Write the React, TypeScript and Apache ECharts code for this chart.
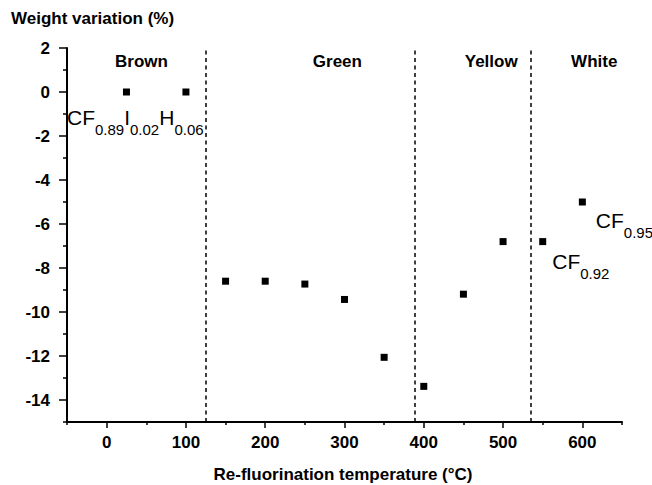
import React, { useEffect, useRef } from "react";
import * as echarts from "echarts";

// ---- data ----
const temps = [25, 100, 150, 200, 250, 300, 350, 400, 450, 500, 550, 600];
const weightVar = [0, 0, -8.6, -8.6, -8.73, -9.43, -12.06, -13.38, -9.19, -6.8, -6.8, -5.0];
const boundaries = [125, 389, 535];
const regionNames = ["Brown", "Green", "Yellow", "White"];
const regionX = [44, 291, 485, 615];
const regionY = 1.4;
const xTicks = [0, 100, 200, 300, 400, 500, 600];
const xMinorTicks = [-50, 50, 150, 250, 350, 450, 550, 650];
const yTicks = [-14, -12, -10, -8, -6, -4, -2, 0, 2];
const yMinorTicks = [-15, -13, -11, -9, -7, -5, -3, -1, 1];
const formulaText = [
  "{m|CF}{s|0.89}{m|I}{s|0.02}{m|H}{s|0.06}",
  "{m|CF}{s|0.95}",
  "{m|CF}{s|0.92}",
];
const formulaX = [-50, 617, 562];
const formulaY = [-1.36, -6.06, -7.91];

const FONT = 'Arial, "Liberation Sans", sans-serif';

export default function App() {
  const ref = useRef<HTMLDivElement>(null);
  useEffect(() => {
    document.body.style.margin = "0";
    const chart = echarts.init(ref.current!, null, { renderer: "svg" });
    const tickLabel = {
      color: "#000",
      fontFamily: FONT,
      fontWeight: "bold" as const,
      fontSize: 17,
    };
    chart.setOption({
      animation: false,
      backgroundColor: "#fff",
      grid: { left: 67, right: 30, top: 48, bottom: 63, containLabel: false },
      xAxis: [
        {
          type: "value",
          min: -50,
          max: 650,
          position: "bottom",
          axisLine: { show: true, onZero: false, lineStyle: { color: "#000", width: 2 } },
          axisTick: { show: true, customValues: xTicks, length: 6, lineStyle: { color: "#000", width: 1.5 } },
          axisLabel: { ...tickLabel, customValues: xTicks, margin: 12 },
          splitLine: { show: false },
        },
        {
          type: "value",
          min: -50,
          max: 650,
          position: "bottom",
          axisLine: { show: false, onZero: false },
          axisTick: { show: true, customValues: xMinorTicks, length: 3, lineStyle: { color: "#000", width: 1.5 } },
          axisLabel: { show: false },
          splitLine: { show: false },
        },
      ],
      yAxis: [
        {
          type: "value",
          min: -15,
          max: 2,
          position: "left",
          axisLine: { show: true, onZero: false, lineStyle: { color: "#000", width: 2 } },
          axisTick: { show: true, customValues: yTicks, length: 8, lineStyle: { color: "#000", width: 1.5 } },
          axisLabel: { ...tickLabel, customValues: yTicks, margin: 17 },
          splitLine: { show: false },
        },
        {
          type: "value",
          min: -15,
          max: 2,
          position: "left",
          axisLine: { show: false, onZero: false },
          axisTick: { show: true, customValues: yMinorTicks, length: 4, lineStyle: { color: "#000", width: 1.5 } },
          axisLabel: { show: false },
          splitLine: { show: false },
        },
      ],
      graphic: [
        {
          type: "text",
          left: 11,
          top: 10,
          style: {
            text: "Weight variation (%)",
            fill: "#000",
            font: `bold 17px ${FONT}`,
          },
        },
        {
          type: "text",
          x: 343,
          y: 474,
          style: {
            text: "Re-fluorination temperature (°C)",
            fill: "#000",
            font: `bold 17px ${FONT}`,
            align: "center",
            verticalAlign: "middle",
          },
        },
      ],
      series: [
        {
          type: "scatter",
          xAxisIndex: 0,
          yAxisIndex: 0,
          symbol: "rect",
          symbolSize: 7,
          itemStyle: { color: "#000", opacity: 1 },
          data: temps.map((t, i) => [t, weightVar[i]]),
          markLine: {
            silent: true,
            symbol: ["none", "none"],
            label: { show: false },
            lineStyle: { color: "#000", width: 1.5, type: [4, 3.5], opacity: 1 },
            data: boundaries.map((b) => ({ xAxis: b })),
          },
          z: 3,
        },
        {
          type: "scatter",
          xAxisIndex: 0,
          yAxisIndex: 0,
          symbolSize: 0,
          silent: true,
          itemStyle: { opacity: 1 },
          label: {
            show: true,
            position: "inside",
            color: "#000",
            fontFamily: FONT,
            fontWeight: "bold",
            fontSize: 17,
            formatter: (p: any) => regionNames[p.dataIndex],
          },
          data: regionNames.map((_, i) => [regionX[i], regionY]),
        },
        {
          type: "scatter",
          xAxisIndex: 0,
          yAxisIndex: 0,
          symbolSize: 0,
          silent: true,
          clip: false,
          itemStyle: { opacity: 1 },
          label: {
            show: true,
            position: "right",
            distance: 0,
            color: "#000",
            formatter: (p: any) => formulaText[p.dataIndex],
            rich: {
              m: { fontSize: 21, fontFamily: FONT, color: "#000", lineHeight: 21, verticalAlign: "top" },
              s: { fontSize: 15, fontFamily: FONT, color: "#000", padding: [15, 0, 0, 0], verticalAlign: "bottom" },
            },
          },
          labelLayout: { hideOverlap: false },
          data: formulaX.map((x, i) => [x, formulaY[i]]),
        },
      ],
    });
    return () => chart.dispose();
  }, []);
  return <div ref={ref} style={{ width: 652, height: 485 }} />;
}
